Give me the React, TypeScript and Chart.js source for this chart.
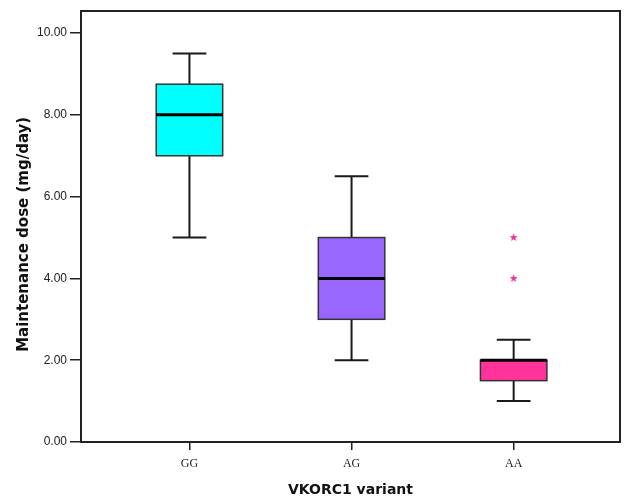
import React, { useEffect, useRef } from 'react';
import { Chart, registerables } from 'chart.js';

Chart.register(...registerables);

const categories = ['GG', 'AG', 'AA'];
const whiskerLow = [5, 2, 1];
const q1 = [7, 3, 1.5];
const median = [8, 4, 2];
const q3 = [8.75, 5, 2];
const whiskerHigh = [9.5, 6.5, 2.5];
const boxColors = ['#00ffff', '#9966ff', '#ff3399'];
const outlierCategory = [3, 3];
const outlierValues = [5, 4];
const yTicks = [0, 2, 4, 6, 8, 10];

const BOX_HALF = 0.205;
const CAP_HALF = 0.104;

function makeStar(color: string) {
  const c = document.createElement('canvas');
  const s = 9;
  c.width = s;
  c.height = s;
  const ctx = c.getContext('2d')!;
  ctx.fillStyle = color;
  ctx.beginPath();
  const cx = s / 2, cy = s / 2, R = 4.3, r = 1.8;
  for (let k = 0; k < 10; k++) {
    const ang = -Math.PI / 2 + (k * Math.PI) / 5;
    const rad = k % 2 === 0 ? R : r;
    const px = cx + rad * Math.cos(ang);
    const py = cy + rad * Math.sin(ang);
    if (k === 0) ctx.moveTo(px, py);
    else ctx.lineTo(px, py);
  }
  ctx.closePath();
  ctx.fill();
  return c;
}

const boxPlugin = {
  id: 'boxPlugin',
  beforeDatasetsDraw(chart: any) {
    const ctx = chart.ctx;
    const xs = chart.scales.x;
    const ys = chart.scales.y;
    ctx.save();
    categories.forEach((_, i) => {
      const xv = i + 1;
      const xc = xs.getPixelForValue(xv);
      const bl = xs.getPixelForValue(xv - BOX_HALF);
      const br = xs.getPixelForValue(xv + BOX_HALF);
      const cl = xs.getPixelForValue(xv - CAP_HALF);
      const cr = xs.getPixelForValue(xv + CAP_HALF);
      const yLo = ys.getPixelForValue(whiskerLow[i]);
      const yQ1 = ys.getPixelForValue(q1[i]);
      const yMed = ys.getPixelForValue(median[i]);
      const yQ3 = ys.getPixelForValue(q3[i]);
      const yHi = ys.getPixelForValue(whiskerHigh[i]);
      ctx.strokeStyle = '#1a1a1a';
      ctx.lineWidth = 2;
      ctx.beginPath();
      ctx.moveTo(xc, yHi);
      ctx.lineTo(xc, yQ3);
      ctx.moveTo(xc, yQ1);
      ctx.lineTo(xc, yLo);
      ctx.moveTo(cl, yHi);
      ctx.lineTo(cr, yHi);
      ctx.moveTo(cl, yLo);
      ctx.lineTo(cr, yLo);
      ctx.stroke();
      ctx.fillStyle = boxColors[i];
      ctx.fillRect(bl, yQ3, br - bl, yQ1 - yQ3);
      ctx.strokeStyle = '#333333';
      ctx.lineWidth = 1.5;
      ctx.strokeRect(bl, yQ3, br - bl, yQ1 - yQ3);
      ctx.strokeStyle = '#000000';
      ctx.lineWidth = 3;
      ctx.beginPath();
      ctx.moveTo(bl, yMed);
      ctx.lineTo(br, yMed);
      ctx.stroke();
    });
    ctx.restore();
  },
  afterDraw(chart: any) {
    const { left, right, top, bottom } = chart.chartArea;
    const ctx = chart.ctx;
    ctx.save();
    ctx.strokeStyle = '#222222';
    ctx.lineWidth = 2;
    ctx.strokeRect(left, top, right - left, bottom - top);
    ctx.restore();
  },
};

export default function App() {
  const ref = useRef<HTMLCanvasElement | null>(null);
  useEffect(() => {
    if (!ref.current) return;
    const star = makeStar('#e8359a');
    const chart = new Chart(ref.current, {
      type: 'scatter',
      data: {
        datasets: [
          {
            data: outlierValues.map((v, k) => ({ x: outlierCategory[k], y: v })),
            pointStyle: star as any,
            pointRadius: 4,
            backgroundColor: '#e8359a',
            borderColor: '#e8359a',
          },
        ],
      },
      options: {
        responsive: false,
        animation: false,
        layout: { padding: { top: 11, right: 2, left: 0, bottom: 0 } },
        plugins: { legend: { display: false }, tooltip: { enabled: false } },
        scales: {
          x: {
            type: 'linear',
            min: 0.331,
            max: 3.656,
            afterBuildTicks: (s: any) => {
              s.ticks = categories.map((_, i) => ({ value: i + 1 }));
            },
            afterFit: (s: any) => {
              s.height = 59;
              s.paddingLeft = 0;
              s.paddingRight = 0;
            },
            ticks: {
              callback: (v: any) => categories[Number(v) - 1] ?? '',
              font: { family: 'Liberation Serif', size: 12 },
              color: '#222',
              padding: 7,
              maxRotation: 0,
            },
            grid: { drawOnChartArea: false, drawTicks: true, tickLength: 8, color: '#222', lineWidth: 1.5 },
            border: { display: true, color: '#222', width: 2 },
            title: {
              display: true,
              text: 'VKORC1 variant',
              font: { family: 'DejaVu Sans', size: 14, weight: 'bold' },
              color: '#111',
              padding: { top: 0, bottom: 2 },
            },
          },
          y: {
            type: 'linear',
            min: 0,
            max: 10.54,
            afterBuildTicks: (s: any) => {
              s.ticks = yTicks.map((v) => ({ value: v }));
            },
            afterFit: (s: any) => {
              s.width = 81;
              s.paddingTop = 0;
              s.paddingBottom = 0;
            },
            ticks: {
              callback: (v: any) => Number(v).toFixed(2),
              font: { family: "'Liberation Sans', Arial, sans-serif", size: 12 },
              color: '#222',
              padding: 3,
            },
            grid: { drawOnChartArea: false, drawTicks: true, tickLength: 11, color: '#222', lineWidth: 1.5 },
            border: { display: true, color: '#222', width: 2 },
            title: {
              display: true,
              text: 'Maintenance dose (mg/day)   ',
              font: { family: 'DejaVu Sans', size: 15, weight: 'bold' },
              color: '#111',
              padding: { top: 15, bottom: 0 },
            },
          },
        },
      },
      plugins: [boxPlugin],
    } as any);
    return () => chart.destroy();
  }, []);
  return (
    <div style={{ position: 'absolute', left: 0, top: 0, width: 625, height: 501, background: '#fff' }}>
      <canvas ref={ref} width={625} height={501} style={{ display: 'block' }} />
    </div>
  );
}
